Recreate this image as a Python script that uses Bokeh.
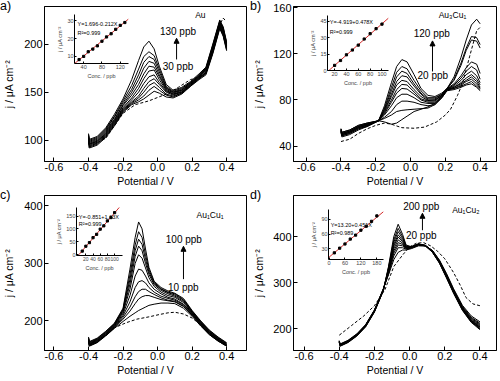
from bokeh.plotting import figure
from bokeh.models import Range1d, FixedTicker, Label, Arrow, NormalHead, GridBox, Div
from bokeh.embed import file_html
from bokeh.resources import INLINE

FONT = "Liberation Sans"

# ---------------- data ----------------
XTICKS = [-0.6, -0.4, -0.2, 0.0, 0.2, 0.4]
XTICK_LABELS = ["-0.6", "-0.4", "-0.2", "0.0", "0.2", "0.4"]

# panel a (Au)
A_X = [-0.40, -0.395, -0.35, -0.30, -0.25, -0.20, -0.15, -0.11, -0.08, -0.05, -0.02,
       0.01, 0.05, 0.09, 0.14, 0.19, 0.24, 0.28, 0.32, 0.36, 0.38, 0.40]
A_CURVES = [
    [98, 92, 95, 103, 115, 129, 137, 140, 143, 147, 151, 149, 145, 144, 148, 156, 163, 168, 190, 216, 208, 193],
    [99, 93, 96, 104, 116, 130, 138, 142, 146, 152, 156, 152, 147, 145, 149, 156, 164, 169, 191, 217, 209, 194],
    [100, 94, 97, 105, 117, 131, 139, 144, 150, 157, 160, 155, 148, 146, 149, 157, 164, 170, 192, 218, 210, 195],
    [101, 95, 98, 106, 118, 132, 140, 146, 154, 161, 164, 158, 150, 147, 150, 157, 165, 170, 193, 219, 211, 196],
    [102, 96, 99, 107, 119, 133, 142, 150, 159, 166, 168, 160, 151, 148, 150, 158, 165, 171, 194, 220, 212, 197],
    [102, 96, 99, 108, 120, 134, 144, 154, 164, 172, 173, 163, 152, 148, 151, 158, 166, 172, 195, 221, 213, 198],
    [103, 97, 100, 109, 121, 136, 147, 158, 169, 177, 176, 166, 153, 149, 152, 159, 166, 173, 196, 222, 214, 198],
    [104, 98, 101, 110, 122, 137, 150, 163, 175, 182, 180, 168, 154, 150, 152, 159, 167, 174, 197, 223, 215, 199],
    [105, 99, 102, 111, 124, 139, 153, 168, 181, 187, 184, 171, 155, 150, 153, 160, 167, 174, 198, 223, 216, 200],
    [106, 100, 103, 112, 125, 141, 157, 174, 187, 192, 188, 174, 156, 151, 154, 160, 168, 175, 199, 224, 217, 201],
    [107, 101, 104, 113, 127, 143, 163, 183, 197, 203, 195, 177, 158, 152, 155, 161, 169, 176, 200, 225, 218, 202],
]
A_BLANK_X = [-0.40, -0.30, -0.20, -0.13, -0.05, 0.05, 0.12, 0.19, 0.24, 0.28, 0.32, 0.36, 0.38, 0.395]
A_BLANK_Y = [93, 102, 128, 137, 141, 148, 155, 163, 166, 170, 192, 220, 227, 224]
A_YTICKS = [100, 150, 200]
A_CONC = [30, 40, 50, 60, 70, 80, 90, 100, 110, 120, 130]
A_RESP = [8.2, 10.0, 12.6, 14.1, 15.9, 18.5, 20.9, 22.7, 25.2, 27.4, 29.0]
A_FIT = (1.696, 0.212)
A_IN_XTICKS = [40, 80, 120]
A_IN_YTICKS = [10, 20, 30]

# panel b (Au3Cu1)
B_X = [-0.40, -0.395, -0.35, -0.30, -0.25, -0.184, -0.15, -0.11, -0.08, -0.05, -0.02, 0.02,
       0.06, 0.10, 0.14, 0.18, 0.21, 0.25, 0.29, 0.32, 0.35, 0.38, 0.40]
B_CURVES = [
    [55, 52, 54, 58, 60, 62, 61, 59, 60, 63, 66, 70, 72, 74, 77, 82, 88, 89, 91, 93, 94, 91, 88],
    [55, 52, 54, 58, 60, 62, 64, 67, 70, 71, 71.5, 72, 72.5, 73, 76, 82, 88.5, 90, 92, 94, 96, 92, 89],
    [55, 51, 53, 57, 59.5, 62, 65, 70, 76, 79, 79, 78, 76, 75, 76, 82, 89, 90, 93, 96, 98, 94, 90],
    [54, 51, 53, 57, 59, 62, 67, 75, 82, 85, 85, 82, 78, 77, 77, 83, 89, 91, 94, 97, 100, 96, 91],
    [54, 51, 53, 57, 59, 62, 68, 78, 86, 90, 89.5, 85, 80, 78, 78, 83, 89, 91, 95, 99, 102, 98, 93],
    [54, 50, 52, 56, 58.5, 62, 69, 80, 89, 93.5, 93, 87, 81, 79, 79, 84, 89.5, 92, 97, 102, 105, 101, 95],
    [53, 50, 52, 56, 58, 62, 70, 83, 93, 97, 96, 89, 83, 79.5, 80, 84, 89.5, 93, 99, 105, 109, 106, 98],
    [53, 50, 52, 56, 58, 62, 71, 85, 96, 101, 100, 92, 85, 80, 80, 84, 90, 94, 101, 108, 113, 111, 103],
    [53, 49, 51, 55, 57.5, 62, 72, 88, 100, 105, 103, 94, 86, 81, 81, 85, 90, 97, 110, 123, 132, 131, 125],
    [52, 49, 51, 55, 57, 62, 73, 91, 104, 109, 107, 97, 88, 82, 82, 85, 90, 98, 112, 125, 135, 134, 128],
    [52, 48, 50, 54, 57, 62, 75, 95, 109, 115, 113, 102, 90, 84, 83, 86, 90, 100, 117, 132, 145, 150, 146],
]
B_BLANK_X = [-0.40, -0.35, -0.30, -0.25, -0.20, -0.15, -0.11, -0.05, 0.02, 0.08, 0.15, 0.20, 0.23,
             0.27, 0.30, 0.34, 0.38, 0.40]
B_BLANK_Y = [44, 46, 51, 55, 58, 60, 59, 56, 55.5, 56.5, 61, 67, 72, 84, 95, 118, 140, 143]
B_YTICKS = [40, 80, 120, 160]
B_CONC = [20, 30, 40, 50, 60, 70, 80, 90, 100]
B_RESP = [4.7, 9.2, 14.4, 18.8, 23.3, 28.9, 33.8, 38.4, 42.6]
B_FIT = (-4.919, 0.478)
B_IN_XTICKS = [20, 40, 60, 80, 100]
B_IN_YTICKS = [0, 15, 30, 45]

# panel c (Au1Cu1)
C_X = [-0.40, -0.395, -0.35, -0.30, -0.25, -0.20, -0.16, -0.13, -0.11, -0.09, -0.07, -0.05,
       -0.02, 0.02, 0.06, 0.10, 0.15, 0.20, 0.25, 0.30, 0.35, 0.40]
C_CURVES = [
    [164, 156, 162, 174, 187, 199, 208, 214, 218, 221, 224, 227, 229, 231, 231, 230, 222, 208, 191, 176, 165, 156],
    [165, 157, 163, 175, 188, 203, 217, 230, 238, 242, 244, 244, 241, 237, 235, 233, 225, 210, 192, 176, 165, 156],
    [165, 157, 163, 175, 189, 206, 224, 242, 251, 255, 255, 251, 246, 240, 236, 234, 226, 211, 193, 177, 166, 157],
    [166, 158, 164, 176, 190, 209, 233, 258, 268, 270, 266, 258, 250, 243, 239, 236, 228, 212, 194, 178, 166, 157],
    [167, 159, 165, 177, 191, 212, 244, 278, 290, 288, 278, 266, 255, 247, 241, 238, 229, 213, 195, 179, 167, 158],
    [168, 160, 166, 178, 192, 215, 255, 300, 315, 309, 292, 275, 260, 250, 244, 241, 232, 214, 196, 180, 168, 158],
    [169, 161, 167, 179, 193, 217, 264, 312, 330, 322, 300, 281, 263, 253, 247, 243, 234, 215, 197, 181, 169, 159],
    [170, 162, 168, 180, 194, 219, 272, 322, 342, 333, 307, 285, 265, 255, 249, 245, 236, 216, 198, 182, 170, 160],
    [171, 163, 169, 181, 195, 220, 280, 332, 355, 345, 315, 289, 267, 256, 250, 247, 237, 217, 199, 183, 171, 161],
    [172, 164, 170, 182, 196, 222, 290, 345, 372, 360, 325, 293, 269, 258, 252, 248, 239, 218, 200, 184, 172, 162],
]
C_BLANK_X = [-0.40, -0.30, -0.25, -0.18, -0.12, -0.05, 0.01, 0.06, 0.10, 0.15, 0.20, 0.25, 0.30, 0.35, 0.40]
C_BLANK_Y = [158, 174, 188, 197, 203, 207, 211, 214, 215, 212, 205, 193, 180, 168, 158]
C_YTICKS = [200, 300, 400]
C_CONC = [10, 20, 30, 40, 50, 60, 70, 80, 90, 100]
C_RESP = [14, 33, 47, 66, 79, 99, 112, 131, 144, 163]
C_FIT = (-0.851, 1.63)
C_IN_XTICKS = [20, 40, 60, 80, 100]
C_IN_YTICKS = [0, 50, 100, 150]

# panel d (Au1Cu2)
D_X = [-0.40, -0.395, -0.35, -0.30, -0.25, -0.20, -0.15, -0.12, -0.09, -0.065, -0.04, -0.02,
       0.01, 0.05, 0.09, 0.13, 0.17, 0.21, 0.25, 0.30, 0.35, 0.40]
D_CURVES = [
    [174, 167, 175, 189, 209, 241, 286, 317, 350, 366, 371, 371, 374, 380, 380, 370, 349, 320, 287, 251, 228, 215],
    [174, 166, 174, 188, 208, 240, 286, 319, 358, 376, 376, 373, 375, 381, 380, 370, 348, 318, 285, 249, 225, 212],
    [173, 166, 174, 188, 208, 240, 285, 321, 364, 382, 380, 374, 376, 382, 380, 369, 347, 317, 284, 247, 223, 210],
    [173, 165, 173, 187, 207, 239, 285, 323, 369, 387, 383, 375, 377, 383, 381, 369, 346, 316, 283, 246, 221, 208],
    [172, 165, 173, 187, 207, 239, 284, 325, 374, 393, 386, 376, 377, 383, 381, 368, 345, 315, 282, 245, 219, 206],
    [172, 164, 172, 186, 206, 238, 284, 327, 379, 399, 389, 377, 378, 384, 381, 368, 344, 314, 281, 244, 218, 204],
    [171, 164, 172, 186, 206, 238, 283, 329, 383, 404, 392, 378, 378, 384, 381, 367, 344, 313, 280, 243, 217, 203],
    [171, 163, 171, 185, 205, 237, 283, 331, 388, 411, 396, 379, 378, 384, 380, 367, 343, 312, 279, 242, 216, 201],
    [170, 163, 171, 185, 205, 237, 282, 333, 393, 418, 400, 380, 378, 384, 380, 366, 343, 311, 278, 241, 215, 200],
    [170, 162, 170, 184, 204, 236, 282, 335, 400, 427, 405, 382, 378, 384, 380, 366, 342, 310, 277, 240, 214, 198],
]
D_BLANK_X = [-0.40, -0.33, -0.26, -0.20, -0.14, -0.09, -0.04, 0.00, 0.04, 0.08, 0.12, 0.16, 0.20,
             0.25, 0.29, 0.32, 0.36, 0.40]
D_BLANK_Y = [186, 207, 228, 250, 285, 335, 360, 378, 386, 387, 380, 368, 352, 322, 293, 268, 254, 250]
D_YTICKS = [200, 300, 400]
D_CONC = [20, 40, 60, 80, 100, 120, 140, 160, 180]
D_RESP = [22, 31.5, 40, 50, 58, 68, 76, 86, 97]
D_FIT = (13.20, 0.451)
D_IN_XTICKS = [0, 60, 120, 180]
D_IN_YTICKS = [30, 60, 90]

YLABEL = "j / μA cm⁻²"
XLABEL = "Potential / V"
IN_XLABEL = "Conc. / ppb"
RED = "#d32b2b"


def main_fig(w, h, xr, yr, yticks, borders, ylab_standoff):
    l, r, t, b = borders
    p = figure(width=w, height=h, x_range=Range1d(*xr), y_range=Range1d(*yr),
               output_backend="svg", toolbar_location=None,
               min_border_left=l, min_border_right=r, min_border_top=t, min_border_bottom=b)
    p.background_fill_color = "white"
    p.border_fill_color = "white"
    p.outline_line_color = "black"
    p.outline_line_width = 1
    p.grid.visible = False
    p.xaxis.ticker = FixedTicker(ticks=XTICKS)
    p.xaxis.major_label_overrides = {t_: s for t_, s in zip(XTICKS, XTICK_LABELS)}
    p.yaxis.ticker = FixedTicker(ticks=yticks)
    p.xaxis.axis_label = XLABEL
    p.yaxis.axis_label = YLABEL
    for ax in (p.xaxis[0], p.yaxis[0]):
        ax.major_tick_in = 4
        ax.major_tick_out = 0
        ax.minor_tick_in = 0
        ax.minor_tick_out = 0
        ax.axis_line_color = "black"
        ax.major_tick_line_color = "black"
        ax.major_label_text_font = FONT
        ax.major_label_text_font_size = "11px"
        ax.major_label_text_color = "black"
        ax.axis_label_text_font = FONT
        ax.axis_label_text_font_size = "10.5px"
        ax.axis_label_text_font_style = "normal"
        ax.axis_label_text_color = "black"
    p.xaxis.major_label_standoff = 1
    p.xaxis.axis_label_standoff = 1
    p.yaxis.major_label_standoff = 2
    p.yaxis.axis_label_standoff = ylab_standoff
    return p


def draw_curves(p, xs, curves, bx, by):
    for ys in curves:
        p.line(xs, ys, line_color="black", line_width=1)
    p.line(bx, by, line_color="black", line_width=1, line_dash="3 2")


def add_texts(p, name, name_xy, hi, hi_xy, lo, lo_xy, arrow):
    for txt, (x, y), size in ((name, name_xy, "8.5px"), (hi, hi_xy, "10px"), (lo, lo_xy, "10px")):
        p.add_layout(Label(x=x, y=y, text=txt, text_font=FONT, text_font_size=size,
                           text_align="center", text_baseline="middle", text_color="black"))
    x, y0, y1 = arrow
    p.add_layout(Arrow(x_start=x, y_start=y0, x_end=x, y_end=y1, line_width=1, line_color="black",
                       end=NormalHead(size=5, fill_color="black", line_color="black")))


def tag(text):
    return Div(text=text, width=16, height=14, margin=(0, 0, 0, 0), align="start",
               styles={"font-family": FONT, "font-size": "12.5px", "line-height": "13px",
                       "color": "black"})


IN_L, IN_R, IN_T, IN_B = 28, 4, 4, 28


def inset_fig(fw, fh, xr, yr, xticks, yticks, conc, resp, fit, eq, r2, txt_xy, frame_xy, cell_xy,
              xtick_size="5.5px"):
    fx, fy = frame_xy
    cx, cy = cell_xy
    margin = (fy - IN_T - cy, 0, 0, fx - IN_L - cx)
    p = figure(width=IN_L + fw + IN_R, height=IN_T + fh + IN_B,
               x_range=Range1d(*xr), y_range=Range1d(*yr),
               output_backend="svg", toolbar_location=None,
               min_border_left=IN_L, min_border_right=IN_R, min_border_top=IN_T,
               min_border_bottom=IN_B, margin=margin, align="start")
    p.background_fill_alpha = 0
    p.border_fill_alpha = 0
    p.outline_line_color = None
    p.grid.visible = False
    p.xaxis.ticker = FixedTicker(ticks=xticks)
    p.yaxis.ticker = FixedTicker(ticks=yticks)
    p.xaxis.axis_label = IN_XLABEL
    p.yaxis.axis_label = YLABEL
    for ax in (p.xaxis[0], p.yaxis[0]):
        ax.major_tick_in = 2
        ax.major_tick_out = 0
        ax.minor_tick_in = 0
        ax.minor_tick_out = 0
        ax.axis_line_color = "black"
        ax.major_label_text_font = FONT
        ax.major_label_text_font_size = "5.5px"
        ax.major_label_standoff = 1
        ax.axis_label_text_font = FONT
        ax.axis_label_text_font_size = "5.5px"
        ax.axis_label_text_font_style = "normal"
        ax.axis_label_standoff = 1
    p.xaxis.major_label_text_font_size = xtick_size
    a, b = fit
    x0 = max(xr[0], -a / b) if a < 0 else xr[0]
    x1 = xr[1]
    p.line([x0, x1], [a + b * x0, a + b * x1], line_color=RED, line_width=1)
    p.scatter(conc, resp, marker="square", size=2.2, fill_color="black", line_color="black")
    tx, ty1, ty2 = txt_xy
    for txt, ty in ((eq, ty1), (r2, ty2)):
        p.add_layout(Label(x=tx, y=ty, text=txt, text_font=FONT, text_font_size="5.5px",
                           text_align="left", text_baseline="middle", text_color="black"))
    return p


# ---------------- panels ----------------
W, H = 250, 189

pa = main_fig(W, H, (-0.655, 0.515), (78, 239), A_YTICKS, (39, 3, 6, 26), 6)
draw_curves(pa, A_X, A_CURVES, A_BLANK_X, A_BLANK_Y)
add_texts(pa, "Au", (0.248, 230), "130 ppb", (0.118, 212.6), "30 ppb", (0.118, 176.7),
          (0.11, 184, 206))

pb = main_fig(W, H, (-0.673, 0.494), (26.7, 161), B_YTICKS, (40, 3, 6, 26), 5)
draw_curves(pb, B_X, B_CURVES, B_BLANK_X, B_BLANK_Y)
add_texts(pb, "Au₃Cu₁", (0.241, 153.4), "120 ppb", (0.122, 138), "20 ppb", (0.128, 101.3),
          (0.126, 104.7, 131.2))

pc = main_fig(W, H, (-0.655, 0.515), (148.5, 418), C_YTICKS, (39, 3, 6, 26), 6)
draw_curves(pc, C_X, C_CURVES, C_BLANK_X, C_BLANK_Y)
add_texts(pc, "Au₁Cu₁", (0.304, 384), "100 ppb", (0.152, 342), "10 ppb", (0.149, 258),
          (0.15, 272.6, 329.7))

pd = main_fig(W, H, (-0.66, 0.494), (152.8, 489.4), D_YTICKS, (42, 3, 6, 26), 5)
draw_curves(pd, D_X, D_CURVES, D_BLANK_X, D_BLANK_Y)
add_texts(pd, "Au₁Cu₂", (0.32, 457), "200 ppb", (0.066, 465.8), "20 ppb", (0.066, 401.5),
          (0.073, 414, 450.8))

ia = inset_fig(70, 51, (20, 138), (6, 33.5), A_IN_XTICKS, A_IN_YTICKS, A_CONC, A_RESP, A_FIT,
               "Y=1.696-0.212X", "R²=0.999", (26.7, 28.1, 23.3), (58, 12), (0, 0))
ib = inset_fig(76, 57, (8, 111), (0, 50.5), B_IN_XTICKS, B_IN_YTICKS, B_CONC, B_RESP, B_FIT,
               "Y=-4.919+0.478X", "R²=0.999", (12, 44.1, 35.4), (312, 13), (W, 0))
ic = inset_fig(62, 50, (-6, 122), (-3, 183), C_IN_XTICKS, C_IN_YTICKS, C_CONC, C_RESP, C_FIT,
               "Y=-0.851+1.63X", "R²=0.999", (0.6, 146, 121), (60, 205), (0, H), xtick_size="5px")
idd = inset_fig(70, 52, (-2, 205), (8.5, 110), D_IN_XTICKS, D_IN_YTICKS, D_CONC, D_RESP, D_FIT,
                "Y=13.20+0.451X", "R²=0.989", (6, 78, 63), (313, 207), (W, H))

grid = GridBox(children=[(pa, 0, 0), (ia, 0, 0), (tag("a)"), 0, 0),
                         (pb, 0, 1), (ib, 0, 1), (tag("b)"), 0, 1),
                         (pc, 1, 0), (ic, 1, 0), (tag("c)"), 1, 0),
                         (pd, 1, 1), (idd, 1, 1), (tag("d)"), 1, 1)], spacing=0)

open("out.html", "w").write(file_html(grid, INLINE))
